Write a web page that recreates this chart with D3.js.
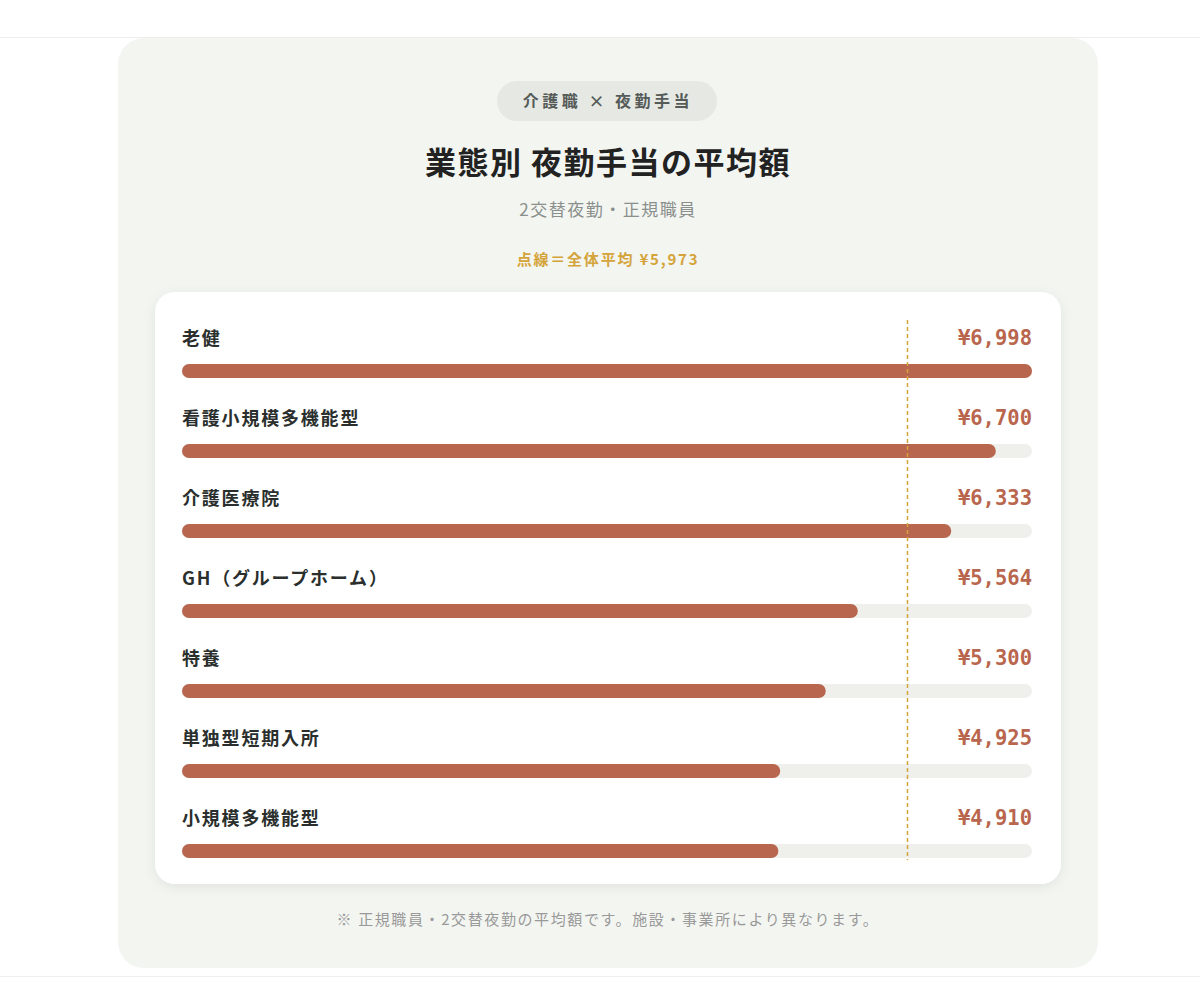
<!DOCTYPE html>
<html><head><meta charset="utf-8">
<script src="https://cdn.jsdelivr.net/npm/d3@7/dist/d3.min.js"></script>
<style>body{margin:0;background:#fff;}svg{display:block;font-family:"Noto Sans CJK JP","Noto Sans",sans-serif;}</style>
</head><body><svg id="c" width="1200" height="1000"></svg>
<script>
const categories = ["老健","看護小規模多機能型","介護医療院","GH（グループホーム）","特養","単独型短期入所","小規模多機能型"];
const values = [6998,6700,6333,5564,5300,4925,4910];
const average = 5973;
const svg = d3.select("#c");
const defs = svg.append("defs");
const f = defs.append("filter").attr("id","sh").attr("x","-10%").attr("y","-10%").attr("width","120%").attr("height","120%");
f.append("feDropShadow").attr("dx",0).attr("dy",3).attr("stdDeviation",6).attr("flood-color","#000").attr("flood-opacity",0.07);
svg.append("line").attr("x1",0).attr("x2",1200).attr("y1",37.5).attr("y2",37.5).attr("stroke","#eeeeee");
svg.append("line").attr("x1",0).attr("x2",1200).attr("y1",976.5).attr("y2",976.5).attr("stroke","#eeeeee");
svg.append("rect").attr("x",118).attr("y",38).attr("width",980).attr("height",930).attr("rx",26).attr("fill","#f3f5f1");
svg.append("rect").attr("x",497).attr("y",81).attr("width",220).attr("height",40).attr("rx",20).attr("fill","#e5e8e3");
svg.append("text").attr("x",608).attr("y",107).attr("text-anchor","middle").attr("font-size",16).attr("font-weight",700).attr("fill","#555b58").attr("letter-spacing",3.5).text("介護職 × 夜勤手当");
svg.append("text").attr("x",608).attr("y",174).attr("text-anchor","middle").attr("font-size",31).attr("font-weight",700).attr("fill","#222").attr("letter-spacing",1.5).text("業態別 夜勤手当の平均額");
svg.append("text").attr("x",608).attr("y",216).attr("text-anchor","middle").attr("font-size",17).attr("fill","#8a8f8c").attr("letter-spacing",1.5).text("2交替夜勤・正規職員");
svg.append("text").attr("x",608).attr("y",265).attr("text-anchor","middle").attr("font-size",15).attr("font-weight",700).attr("fill","#d4a43a").attr("letter-spacing",1.8).text("点線＝全体平均 ¥5,973");
svg.append("rect").attr("x",155).attr("y",292).attr("width",906).attr("height",592).attr("rx",20).attr("fill","#fff").attr("filter","url(#sh)");
const x = d3.scaleLinear().domain([0, d3.max(values)]).range([182,1032]);
const y = d3.scaleBand().domain(categories).range([320,880]).paddingInner(0);
const g = svg.append("g");
const row = g.selectAll("g").data(categories).join("g").attr("transform",d=>`translate(0,${y(d)})`);
row.append("text").attr("x",182).attr("y",25).attr("font-size",18).attr("font-weight",700).attr("fill","#2a2f2d").attr("letter-spacing",1.8).text(d=>d);
row.append("text").attr("x",1032).attr("y",25).attr("text-anchor","end").attr("font-family","'DejaVu Sans Mono',monospace").attr("font-size",20.5).attr("font-weight",700).attr("fill","#b8664e").text((d,i)=>"¥"+d3.format(",")(values[i]));
row.append("rect").attr("x",182).attr("y",44).attr("width",850).attr("height",14).attr("rx",7).attr("fill","#efefec");
row.append("rect").attr("x",182).attr("y",44).attr("width",(d,i)=>x(values[i])-182).attr("height",14).attr("rx",7).attr("fill","#b8664e");
svg.append("line").attr("x1",x(average)).attr("x2",x(average)).attr("y1",320).attr("y2",860).attr("stroke","#d4a43a").attr("stroke-width",1.5).attr("stroke-dasharray","4,3");
svg.append("text").attr("x",608).attr("y",925).attr("text-anchor","middle").attr("font-size",15).attr("fill","#999").attr("letter-spacing",1.6).text("※ 正規職員・2交替夜勤の平均額です。施設・事業所により異なります。");
</script></body></html>
